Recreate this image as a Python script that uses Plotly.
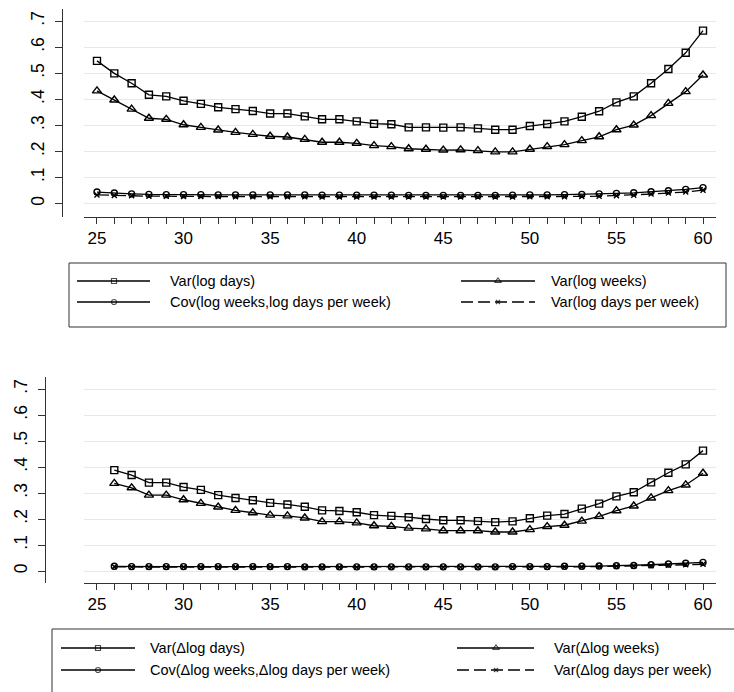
import plotly.graph_objects as go

W, H = 734, 692

# ---------------- data ----------------
ages_top = list(range(25, 61))
ages_bot = list(range(26, 61))

var_log_days = [0.547, 0.499, 0.461, 0.417, 0.411, 0.394, 0.382, 0.369, 0.362, 0.355,
                0.345, 0.345, 0.334, 0.323, 0.323, 0.315, 0.306, 0.304, 0.292, 0.292,
                0.291, 0.292, 0.288, 0.283, 0.283, 0.297, 0.305, 0.315, 0.333, 0.354,
                0.388, 0.411, 0.461, 0.516, 0.578, 0.663]
var_log_weeks = [0.432, 0.397, 0.362, 0.327, 0.323, 0.302, 0.292, 0.282, 0.273, 0.265,
                 0.258, 0.255, 0.246, 0.235, 0.235, 0.231, 0.222, 0.218, 0.210, 0.208,
                 0.205, 0.206, 0.203, 0.198, 0.198, 0.208, 0.218, 0.226, 0.241, 0.256,
                 0.283, 0.301, 0.337, 0.384, 0.429, 0.493]
cov_log_weeks_dpw = [0.044, 0.040, 0.037, 0.035, 0.034, 0.034, 0.034, 0.033, 0.033, 0.033,
                     0.033, 0.033, 0.033, 0.032, 0.032, 0.032, 0.032, 0.032, 0.031, 0.031,
                     0.031, 0.031, 0.031, 0.031, 0.032, 0.033, 0.033, 0.034, 0.035, 0.037,
                     0.039, 0.041, 0.045, 0.049, 0.054, 0.061]
var_log_dpw = [0.033, 0.031, 0.030, 0.028, 0.028, 0.027, 0.027, 0.027, 0.026, 0.026,
               0.026, 0.026, 0.026, 0.025, 0.025, 0.025, 0.025, 0.025, 0.025, 0.025,
               0.025, 0.025, 0.025, 0.025, 0.025, 0.026, 0.026, 0.026, 0.027, 0.028,
               0.030, 0.032, 0.036, 0.040, 0.044, 0.051]

var_dlog_days = [0.388, 0.369, 0.340, 0.340, 0.323, 0.312, 0.292, 0.281, 0.272, 0.262,
                 0.256, 0.247, 0.233, 0.231, 0.226, 0.215, 0.212, 0.207, 0.200, 0.195,
                 0.195, 0.192, 0.188, 0.191, 0.203, 0.213, 0.219, 0.240, 0.259, 0.287,
                 0.303, 0.341, 0.378, 0.410, 0.463]
var_dlog_weeks = [0.337, 0.320, 0.292, 0.292, 0.274, 0.260, 0.246, 0.233, 0.224, 0.215,
                  0.212, 0.204, 0.190, 0.190, 0.185, 0.174, 0.172, 0.165, 0.162, 0.155,
                  0.155, 0.155, 0.150, 0.150, 0.159, 0.171, 0.176, 0.192, 0.210, 0.232,
                  0.250, 0.281, 0.309, 0.331, 0.376]
cov_dlog_weeks_dpw = [0.018, 0.017, 0.017, 0.017, 0.017, 0.017, 0.017, 0.017, 0.017, 0.017,
                      0.017, 0.016, 0.016, 0.016, 0.016, 0.016, 0.016, 0.016, 0.016, 0.016,
                      0.016, 0.016, 0.016, 0.017, 0.017, 0.017, 0.018, 0.018, 0.019, 0.020,
                      0.021, 0.024, 0.027, 0.030, 0.033]
var_dlog_dpw = [0.016, 0.015, 0.015, 0.015, 0.015, 0.015, 0.015, 0.015, 0.015, 0.015,
                0.015, 0.014, 0.014, 0.014, 0.014, 0.014, 0.014, 0.014, 0.014, 0.014,
                0.014, 0.014, 0.014, 0.015, 0.015, 0.015, 0.016, 0.016, 0.017, 0.018,
                0.019, 0.020, 0.022, 0.024, 0.026]

x_tick_vals = list(range(25, 61))
x_tick_text = [str(v) if v % 5 == 0 else "" for v in x_tick_vals]
y_tick_vals = [0, 0.1, 0.2, 0.3, 0.4, 0.5, 0.6, 0.7]
y_tick_text = ["0", ".1", ".2", ".3", ".4", ".5", ".6", ".7"]

labels_top = ["Var(log days)", "Var(log weeks)",
              "Cov(log weeks,log days per week)", "Var(log days per week)"]
labels_bot = ["Var(\u0394log days)", "Var(\u0394log weeks)",
              "Cov(\u0394log weeks,\u0394log days per week)", "Var(\u0394log days per week)"]

# ---------------- styling ----------------
FONT = "Liberation Sans, Arial, sans-serif"
BLACK = "#000000"
AXIS = "#333333"
GRID = "#e2eaee"

styles = [
    dict(symbol="square-open", size=7, dash="solid"),
    dict(symbol="triangle-up-open", size=8, dash="solid"),
    dict(symbol="circle-open", size=6, dash="solid"),
    dict(symbol="x-thin", size=5, dash="12px,5px"),
]

fig = go.Figure()

def add_series(xs, ys, st, xa, ya):
    fig.add_trace(go.Scatter(
        x=xs, y=ys, mode="lines+markers", xaxis=xa, yaxis=ya, showlegend=False,
        line=dict(color=BLACK, width=1.3, dash=st["dash"]),
        marker=dict(symbol=st["symbol"], size=st["size"], color=BLACK,
                    line=dict(color=BLACK, width=1.4)),
        hoverinfo="skip"))

top_series = [var_log_days, var_log_weeks, cov_log_weeks_dpw, var_log_dpw]
bot_series = [var_dlog_days, var_dlog_weeks, cov_dlog_weeks_dpw, var_dlog_dpw]
for i in [3, 2, 1, 0]:
    add_series(ages_top, top_series[i], styles[i], "x", "y")
    add_series(ages_bot, bot_series[i], styles[i], "x2", "y2")

def px_x(p):
    return p / W

def px_y(p):
    return 1 - p / H

xdom = [px_x(84), px_x(716)]
x_range = [24.25, 60.75]

common_x = dict(range=x_range, tickvals=x_tick_vals, ticktext=x_tick_text,
                ticks="outside", ticklen=6, tickwidth=1, tickcolor=AXIS,
                showline=True, linecolor=AXIS, linewidth=1, showgrid=False,
                zeroline=False, tickfont=dict(family=FONT, size=17, color=BLACK),
                domain=xdom, fixedrange=True)
common_y = dict(tickvals=y_tick_vals, ticktext=y_tick_text, tickangle=-90,
                ticks="outside", ticklen=7, tickwidth=1, tickcolor=AXIS,
                showline=True, linecolor=AXIS, linewidth=1, showgrid=True,
                gridcolor=GRID, gridwidth=1, zeroline=False,
                tickfont=dict(family=FONT, size=17.5, color=BLACK),
                ticklabelstandoff=4,
                anchor="free", fixedrange=True)

t_per = (203.5 - 21) / 0.7
y_top_range = [(203.5 - 217) / t_per, (203.5 - 9) / t_per]
b_per = (571 - 389) / 0.7
y_bot_range = [(571 - 583) / b_per, (571 - 377) / b_per]

fig.update_layout(
    width=W, height=H, margin=dict(l=0, r=0, t=0, b=0),
    paper_bgcolor="white", plot_bgcolor="rgba(0,0,0,0)",
    xaxis=dict(anchor="y", **common_x),
    yaxis=dict(domain=[px_y(217), px_y(9)], range=y_top_range, position=px_x(62), **common_y),
    xaxis2=dict(anchor="y2", **common_x),
    yaxis2=dict(domain=[px_y(583), px_y(377)], range=y_bot_range, position=px_x(45), **common_y),
    xaxis3=dict(domain=[0, 1], range=[0, W], visible=False, anchor="y3", fixedrange=True),
    yaxis3=dict(domain=[0, 1], range=[H, 0], visible=False, anchor="x3", fixedrange=True),
)

# ---------------- legends (pixel overlay) ----------------
legend_marker_sizes = [5, 6, 5, 4]

def add_legend(box, cols, rows_y, labels):
    x0, y0, x1, y1 = box
    fig.add_shape(type="rect", xref="x3", yref="y3", x0=x0, y0=y0, x1=x1, y1=y1,
                  line=dict(color=AXIS, width=1), fillcolor="rgba(0,0,0,0)")
    for k, lab in enumerate(labels):
        r, c = divmod(k, 2)
        lx0, lxm, lx1, tx = cols[c]
        yy = rows_y[r]
        st = styles[k]
        fig.add_trace(go.Scatter(
            x=[lx0, lxm, lx1], y=[yy, yy, yy], xaxis="x3", yaxis="y3",
            mode="lines+markers", showlegend=False, hoverinfo="skip", cliponaxis=False,
            line=dict(color=BLACK, width=1.3, dash=st["dash"]),
            marker=dict(symbol=st["symbol"], size=[0, legend_marker_sizes[k], 0],
                        color=BLACK, line=dict(color=BLACK, width=1.2))))
        fig.add_annotation(x=tx, y=yy, xref="x3", yref="y3", text=lab, showarrow=False,
                           xanchor="left", yanchor="middle",
                           font=dict(family=FONT, size=14.5, color=BLACK))

add_legend((69, 263, 726, 327),
           [(77, 114, 150, 168), (461, 498, 535, 549)],
           [281, 302], labels_top)
add_legend((52, 629, 745, 700),
           [(61, 98, 135, 148), (457, 496, 534, 552)],
           [648, 670], labels_bot)

fig.write_html("out.html")
